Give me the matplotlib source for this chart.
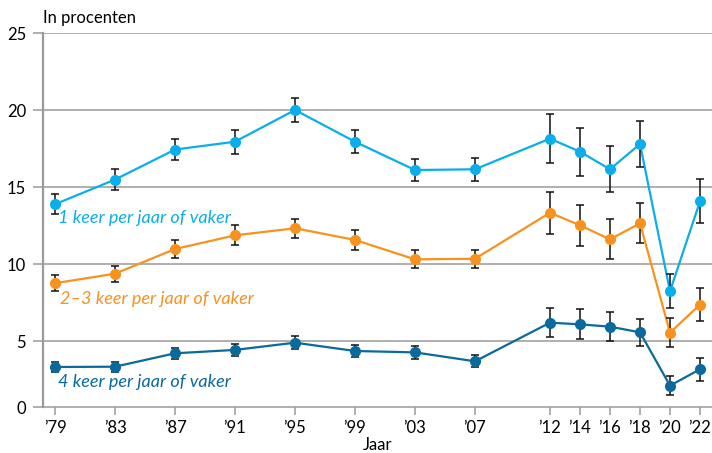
import matplotlib
matplotlib.use("Agg")
import matplotlib.pyplot as plt

years = [1979, 1983, 1987, 1991, 1995, 1999, 2003, 2007, 2012, 2014, 2016, 2018, 2020, 2022]
year_labels = ["’79", "’83", "’87", "’91", "’95", "’99", "’03", "’07",
               "’12", "’14", "’16", "’18", "’20", "’22"]

once = [13.90, 15.50, 17.45, 17.96, 20.02, 17.96, 16.12, 16.17, 18.16, 17.31, 16.17, 17.81, 8.25, 14.09]
once_err = [0.65, 0.70, 0.70, 0.78, 0.76, 0.76, 0.70, 0.74, 1.57, 1.56, 1.50, 1.48, 1.12, 1.43]

twothree = [8.77, 9.39, 10.99, 11.88, 12.34, 11.58, 10.32, 10.36, 13.35, 12.53, 11.62, 12.66, 5.56, 7.38]
twothree_err = [0.51, 0.53, 0.57, 0.65, 0.63, 0.63, 0.58, 0.60, 1.37, 1.35, 1.30, 1.30, 0.92, 1.05]

four = [3.33, 3.35, 4.22, 4.44, 4.91, 4.37, 4.28, 3.70, 6.21, 6.10, 5.95, 5.58, 2.12, 3.18]
four_err = [0.33, 0.33, 0.36, 0.40, 0.41, 0.40, 0.40, 0.39, 0.96, 0.97, 0.95, 0.88, 0.60, 0.73]

series_labels = ["1 keer per jaar of vaker", "2–3 keer per jaar of vaker", "4 keer per jaar of vaker"]
y_ticks = [5, 10, 15, 20, 25]

c_light = "#0AAEEA"
c_orange = "#F7921E"
c_dark = "#0A6A9C"
grid_c = "#9a9a9a"

plt.rcParams['font.family'] = ['Lato', 'DejaVu Sans']

fig = plt.figure(figsize=(7.12, 4.53), dpi=100)
ax = fig.add_axes([0.060, 0.1009, 0.940, 0.8256])

ybottom = 0.714
ax.set_ylim(ybottom, 25)
ax.set_xlim(1978.18, 2022.8)

for v in y_ticks:
    ax.axhline(v, color=grid_c, lw=1.1, zorder=0)

for vals, errs, col in [(once, once_err, c_light), (twothree, twothree_err, c_orange), (four, four_err, c_dark)]:
    ax.plot(years, vals, color=col, lw=1.6, zorder=2)
    ax.errorbar(years, vals, yerr=errs, fmt='none', ecolor='#111111', elinewidth=1.1,
                capsize=3.2, capthick=1.1, zorder=3)
    ax.plot(years, vals, 'o', color=col, ms=8, zorder=4, markeredgewidth=0)

ax.set_yticks([ybottom] + y_ticks)
ax.set_yticklabels(["0"] + [str(v) for v in y_ticks], fontsize=12)
ax.set_xticks(years)
ax.set_xticklabels(year_labels, fontsize=12)
ax.tick_params(axis='y', length=7, color=grid_c, width=1.1, pad=5)
ax.tick_params(axis='x', length=6, color=grid_c, width=1.1, pad=3)

for s in ['top', 'right']:
    ax.spines[s].set_visible(False)
ax.spines['left'].set_color(grid_c)
ax.spines['bottom'].set_color(grid_c)
ax.spines['left'].set_linewidth(1.6)
ax.spines['bottom'].set_linewidth(1.1)

ax.text(1979.2, 13.0, series_labels[0], color=c_light, fontsize=13, style='italic', va='center')
ax.text(1979.35, 7.75, series_labels[1], color=c_orange, fontsize=13, style='italic', va='center')
ax.text(1979.2, 2.36, series_labels[2], color=c_dark, fontsize=13, style='italic', va='center')

fig.text(0.060, 0.960, "In procenten", fontsize=12, va='center', ha='left')
ax.set_xlabel("Jaar", fontsize=12, labelpad=1)

fig.savefig("out.png", dpi=100)
